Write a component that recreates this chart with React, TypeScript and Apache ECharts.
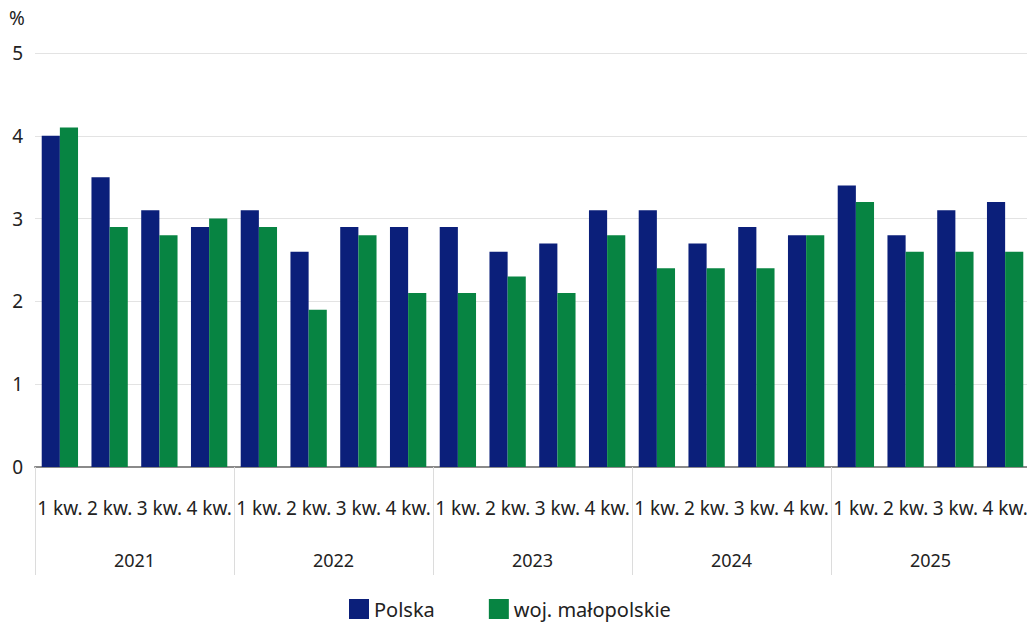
import React, { useEffect, useRef } from "react";
import * as echarts from "echarts";

const quarters = [
  "1 kw.", "2 kw.", "3 kw.", "4 kw.",
  "1 kw.", "2 kw.", "3 kw.", "4 kw.",
  "1 kw.", "2 kw.", "3 kw.", "4 kw.",
  "1 kw.", "2 kw.", "3 kw.", "4 kw.",
  "1 kw.", "2 kw.", "3 kw.", "4 kw.",
];
const years = ["2021", "2022", "2023", "2024", "2025"];
const polska = [4.0, 3.5, 3.1, 2.9, 3.1, 2.6, 2.9, 2.9, 2.9, 2.6, 2.7, 3.1, 3.1, 2.7, 2.9, 2.8, 3.4, 2.8, 3.1, 3.2];
const malopolskie = [4.1, 2.9, 2.8, 3.0, 2.9, 1.9, 2.8, 2.1, 2.1, 2.3, 2.1, 2.8, 2.4, 2.4, 2.4, 2.8, 3.2, 2.6, 2.6, 2.6];
const yTicks = { min: 0, max: 5, interval: 1 };

const FONT = "'Noto Sans', 'Open Sans', sans-serif";
const TXT = "#222";

export default function App() {
  const ref = useRef<HTMLDivElement>(null);
  useEffect(() => {
    document.body.style.margin = "0";
    document.body.style.overflow = "hidden";
    const chart = echarts.init(ref.current!, null, { renderer: "svg" });
    chart.setOption({
      animation: false,
      textStyle: { fontFamily: FONT },
      grid: { left: 35, top: 53, width: 995, height: 414, containLabel: false },
      graphic: [
        { type: "text", left: 9, top: 8, style: { text: "%", fontSize: 19, fill: TXT, fontFamily: FONT } },
      ],
      legend: {
        top: 594,
        left: 344,
        itemWidth: 20,
        itemHeight: 20,
        itemGap: 54,
        icon: "rect",
        textStyle: { fontSize: 20, color: TXT, fontFamily: FONT },
        data: ["Polska", "woj. małopolskie"],
      },
      xAxis: [
        {
          type: "category",
          data: quarters,
          position: "bottom",
          axisLine: { show: true, lineStyle: { color: "#8a8a8a", width: 2 } },
          axisTick: { show: false },
          axisLabel: { interval: 0, margin: 31, fontSize: 19, color: TXT, fontFamily: FONT },
        },
        {
          type: "category",
          data: years,
          position: "bottom",
          axisLine: { show: false },
          axisTick: { show: true, length: 108, lineStyle: { color: "#dcdcdc", width: 1 } },
          axisLabel: { interval: 0, margin: 84, fontSize: 18, color: TXT, fontFamily: FONT },
        },
      ],
      yAxis: {
        type: "value",
        min: yTicks.min,
        max: yTicks.max,
        interval: yTicks.interval,
        axisLine: { show: false },
        axisTick: { show: false },
        splitLine: { lineStyle: { color: "#e3e3e3", width: 1 } },
        axisLabel: { fontSize: 19, color: TXT, margin: 12, align: "right", fontFamily: FONT },
      },
      series: [
        {
          name: "Polska",
          type: "bar",
          data: polska,
          itemStyle: { color: "#0b1f7a" },
          barGap: "0%",
          barCategoryGap: "27%",
        },
        {
          name: "woj. małopolskie",
          type: "bar",
          data: malopolskie,
          itemStyle: { color: "#078442" },
        },
      ],
    });
    return () => chart.dispose();
  }, []);
  return <div ref={ref} style={{ width: 1040, height: 625 }} />;
}
